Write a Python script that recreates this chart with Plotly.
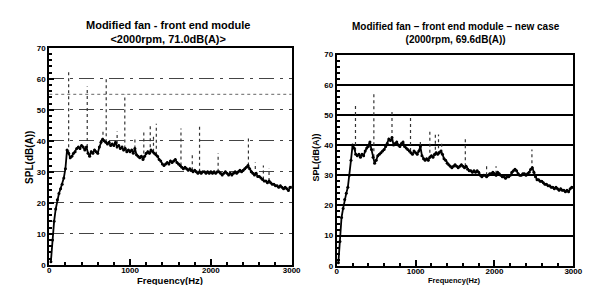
import plotly.graph_objects as go

# ---------------- data ----------------
freq = list(range(20, 3001, 20))

left_spl = [1, 8, 14, 18, 21, 23, 24.5, 26, 28, 31,
            37, 36, 34.5, 35, 36, 36.5, 37.5, 38, 37.5, 38.5,
            38, 37, 38, 36, 35, 36.5, 36, 37, 36.5, 36,
            38, 39.5, 40.5, 40, 39.5, 39, 39.5, 38.5, 39, 38.5,
            39.5, 38, 38.5, 37.5, 38, 37, 37.5, 36.5, 37, 36.5,
            37, 36, 37.5, 35.5, 35, 34.5, 35, 34, 35, 36,
            36.5, 36, 37, 36.5, 36, 35.5, 35, 34, 33.5, 32.5,
            32, 32.5, 33, 32.5, 33.5, 33, 33.5, 34, 33, 32.5,
            32, 31.5, 31, 31.5, 31, 30.5, 31, 30.5, 30, 30.5,
            30, 29.5, 30, 29.5, 30, 30, 29.5, 30, 29.5, 30,
            29.5, 30, 29.5, 30, 30, 29.5, 29, 29.5, 30, 29.5,
            29, 29.5, 29, 29.5, 30, 29.5, 30, 30.5, 30, 30.5,
            31, 31.5, 32, 31, 30, 29.5, 29, 29.5, 28.5, 28.5,
            28, 27.5, 27, 27, 26.5, 27, 26.5, 26, 26, 25.5,
            25.5, 25, 25.5, 25, 24.5, 25, 24.5, 24, 25, 25]

right_spl = [1, 8, 16, 19, 22, 24, 26, 30, 35, 40,
             39, 37, 36.5, 37, 36, 37, 36.5, 38, 39, 39.5,
             41, 38.5, 36, 34, 35, 36.5, 37, 37.5, 38, 38.5,
             39.5, 40.5, 42, 41.5, 42.5, 40, 40.5, 41, 40, 39.5,
             40.5, 41, 39.5, 39, 38.5, 38, 37.5, 37, 38, 37.5,
             37, 38, 39.5, 36.5, 35.5, 35, 35.5, 35, 36, 36.5,
             36, 37, 37.5, 37, 37.5, 38, 37, 35.5, 35, 34,
             33.5, 33, 32.5, 33, 33.5, 33, 32.5, 33, 33.5, 33,
             32.5, 33, 32, 31.5, 31.5, 31, 31.5, 31, 31.5, 31,
             30, 29.5, 30, 30, 29.5, 30, 30.5, 30.5, 31, 30.5,
             30, 31, 30.5, 30, 29.5, 29.5, 29, 29.5, 29.5, 30,
             31, 31.5, 32, 31.5, 30.5, 30, 30, 30.5, 30.5, 30,
             30.5, 31, 32, 32.5, 31, 29.5, 28.5, 28.5, 28, 28,
             27.5, 27, 27, 26.5, 26.5, 26, 26, 25.5, 26, 25.5,
             25, 25.5, 25, 25, 24.5, 25, 24.5, 25.5, 26, 26]

# tonal peaks: frequency, base level, peak level
left_peak_freq = [240, 470, 665, 705, 840, 935, 1060, 1170, 1250, 1290, 1325, 1630, 1770, 1860, 2090, 2465, 2550, 2650, 2720]
left_peak_base = [36, 38, 40, 39.5, 39, 37.5, 37.5, 34, 36, 36.5, 35.5, 32, 30.5, 30, 30, 32, 29, 27.5, 27]
left_peak_top = [62.5, 57.5, 43, 60, 43, 55, 41, 43.5, 45, 42, 45.5, 44, 35.5, 44.5, 36, 41.3, 33, 32, 31]

right_peak_freq = [237, 470, 700, 935, 1060, 1180, 1250, 1290, 1330, 1630, 1900, 2020, 2475]
right_peak_base = [38, 36, 42, 38, 38, 35.5, 36.5, 37, 37.5, 33, 30, 30.5, 32]
right_peak_top = [53.6, 57.4, 51.3, 50.2, 41.5, 44.4, 44, 43.5, 41, 42.2, 33, 33, 38.5]

x_ticks = [0, 1000, 2000, 3000]
y_ticks = [0, 10, 20, 30, 40, 50, 60, 70]

left_title = "Modified fan - front end module<br><2000rpm, 71.0dB(A)>"
right_title = "Modified fan \u2013 front end module \u2013 new case<br>(2000rpm, 69.6dB(A))"


def peak_segments(fs, bases, tops):
    xs, ys = [], []
    for f, b, t in zip(fs, bases, tops):
        xs += [f, f, None]
        ys += [b, t, None]
    return xs, ys


fig = go.Figure()

lx, ly = peak_segments(left_peak_freq, left_peak_base, left_peak_top)
rx, ry = peak_segments(right_peak_freq, right_peak_base, right_peak_top)

fig.add_trace(go.Scatter(x=lx, y=ly, mode="lines", xaxis="x", yaxis="y",
                         line=dict(color="#333333", width=1.2, dash="dot"), showlegend=False))
fig.add_trace(go.Scatter(x=freq, y=left_spl, mode="lines+markers", xaxis="x", yaxis="y",
                         line=dict(color="black", width=1.8),
                         marker=dict(size=3, color="black"), showlegend=False))
fig.add_trace(go.Scatter(x=rx, y=ry, mode="lines", xaxis="x2", yaxis="y2",
                         line=dict(color="#333333", width=1.2, dash="dot"), showlegend=False))
fig.add_trace(go.Scatter(x=freq, y=right_spl, mode="lines+markers", xaxis="x2", yaxis="y2",
                         line=dict(color="black", width=1.8),
                         marker=dict(size=3, color="black"), showlegend=False))

W, H = 591, 285
tick_font = dict(family="Liberation Sans", size=8, color="black", weight="bold")


def xax(px0, px1, anchor):
    return dict(domain=[px0 / W, px1 / W], anchor=anchor, range=[0, 3000],
                tickvals=x_ticks, ticktext=[str(v) for v in x_ticks],
                ticks="inside", ticklen=6, tickwidth=1.5, tickcolor="black",
                minor=dict(ticks="inside", dtick=200, ticklen=3, tickcolor="black"),
                showline=True, linewidth=2, linecolor="black", mirror=True,
                showgrid=False, zeroline=False, tickfont=tick_font,
                ticklabelstandoff=-3)


def yax(py_top, py_bot, anchor, grid_dash, grid_color, grid_w):
    return dict(domain=[(H - py_bot) / H, (H - py_top) / H], anchor=anchor, range=[0, 70],
                tickvals=y_ticks, ticks="inside", ticklen=5, tickwidth=1.5, tickcolor="black",
                minor=dict(ticks="inside", dtick=2, ticklen=3, tickcolor="black"),
                showline=True, linewidth=2, linecolor="black", mirror=True,
                showgrid=True, gridcolor=grid_color, gridwidth=grid_w, griddash=grid_dash,
                zeroline=False, tickfont=tick_font)


fig.update_layout(
    width=W, height=H, margin=dict(l=0, r=0, t=0, b=0),
    paper_bgcolor="white", plot_bgcolor="white",
    xaxis=xax(40, 287, "y"),
    yaxis=yax(37, 261, "x", "longdashdot", "#444444", 1.3),
    xaxis2=xax(333, 574, "y2"),
    yaxis2=yax(44, 262, "x2", "solid", "black", 1.5),
    font=dict(family="Liberation Sans", color="black"),
)

# dotted reference line at 55 dB in left panel
fig.add_shape(type="line", xref="x", yref="y", x0=0, x1=3000, y0=55, y1=55,
              line=dict(color="#666666", width=1, dash="dot"))

annots = [
    dict(text="<b>" + left_title + "</b>", x=161 / W, y=1 - 21 / H, font=dict(size=11)),
    dict(text="<b>" + right_title + "</b>", x=454 / W, y=1 - 22 / H, font=dict(size=10)),
    dict(text="<b>Frequency(Hz)</b>", x=163 / W, y=1 - 277 / H, font=dict(size=9.5)),
    dict(text="<b>Frequency(Hz)</b>", x=453 / W, y=1 - 277.5 / H, font=dict(size=7.5)),
    dict(text="<b>SPL(dB(A))</b>", x=20 / W, y=1 - 150 / H, font=dict(size=10), textangle=-90),
    dict(text="<b>SPL(dB(A))</b>", x=312 / W, y=1 - 150 / H, font=dict(size=9), textangle=-90),
]
for a in annots:
    fig.add_annotation(xref="paper", yref="paper", showarrow=False,
                       xanchor="center", yanchor="middle", **a)

fig.write_html("out.html")
